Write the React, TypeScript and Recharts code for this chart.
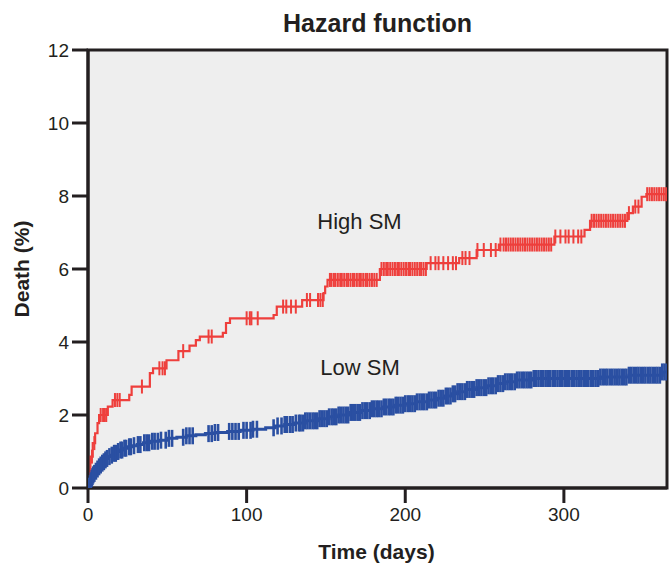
import React from 'react';
import { ComposedChart, Line, XAxis, YAxis, CartesianGrid, Customized } from 'recharts';

const X_TICKS = [0, 100, 200, 300];
const Y_TICKS = [0, 2, 4, 6, 8, 10, 12];

const highEventTimes = [0, 1, 1.5, 3, 4.5, 6, 7, 12.5, 15.5, 26, 27.5, 39, 41, 49.5, 57, 64, 68, 70.5, 85, 87, 89.5, 117, 119, 135, 148.5, 149.5, 151, 184, 213.5, 234, 245, 259, 294, 313, 316.5, 340, 343.5, 349, 352];
const highEventValues = [0, 0.45, 0.86, 1.23, 1.5, 1.78, 2.0, 2.23, 2.41, 2.55, 2.78, 3.15, 3.28, 3.5, 3.75, 3.9, 4.05, 4.15, 4.25, 4.52, 4.65, 4.74, 4.97, 5.15, 5.34, 5.52, 5.7, 6.0, 6.16, 6.3, 6.52, 6.67, 6.89, 7.07, 7.32, 7.53, 7.71, 7.98, 8.05];
const highCensorTimes = [2.5, 4, 8, 9.5, 10.5, 11.5, 17, 18.5, 20, 34, 45, 47, 48.5, 60, 76, 78, 100, 102, 103, 107, 123, 125, 128, 131, 138, 140, 145, 146.5, 148, 152.5, 153.5, 155, 156, 157.5, 159, 160, 161.5, 163, 164, 165.5, 167, 168, 169.5, 171, 172, 173.5, 175, 176, 177.5, 179, 180.5, 182, 185, 186.5, 188, 189, 190.5, 192, 193.5, 195, 196, 197.5, 199, 200.5, 202, 203, 204.5, 206, 207.5, 209, 210, 211.5, 213, 216, 219, 221, 224, 227, 230, 232, 236, 238, 240.5, 245.5, 249.5, 254, 257, 260, 262, 263.5, 265, 266.5, 268, 269.5, 271, 272.5, 274, 275.5, 277, 278.5, 280, 281.5, 283, 284.5, 286, 287.5, 289, 290.5, 292, 294.6, 297.8, 301, 303, 306, 309, 311, 317.5, 319, 320.5, 322, 323.5, 325, 326.5, 328, 329.5, 331, 332.5, 334, 335.5, 337, 338.5, 341, 345, 347, 352.5, 354, 355.5, 357, 358.5, 360, 361.5, 363, 364.5];

const lowEventTimes = [0, 0.5, 1, 1.5, 2, 2.5, 3, 3.5, 4.5, 5.5, 6.5, 7.5, 8.5, 9.5, 10.5, 11.5, 13, 14.5, 16, 18, 20, 22, 25, 28, 31, 35, 40, 45, 50, 56, 62, 68, 74, 80, 88, 96, 104, 112, 118, 124, 130, 137, 145, 152, 158, 165, 172, 179, 186, 193, 200, 207, 214, 220, 225, 229, 233, 238, 245, 252, 258, 263, 270, 280, 323, 341, 362];
const lowEventValues = [0, 0.05, 0.12, 0.2, 0.26, 0.31, 0.36, 0.4, 0.46, 0.52, 0.58, 0.63, 0.68, 0.72, 0.77, 0.81, 0.86, 0.9, 0.95, 1.0, 1.04, 1.09, 1.13, 1.16, 1.19, 1.24, 1.28, 1.31, 1.36, 1.39, 1.43, 1.46, 1.49, 1.52, 1.55, 1.58, 1.61, 1.65, 1.7, 1.74, 1.78, 1.84, 1.9, 1.95, 2.0, 2.07, 2.12, 2.17, 2.22, 2.27, 2.31, 2.36, 2.41, 2.46, 2.52, 2.58, 2.64, 2.7, 2.75, 2.8, 2.86, 2.91, 2.96, 3.0, 3.04, 3.09, 3.18];
const lowCensorTimes = [0.3, 0.8, 1.3, 1.8, 2.3, 2.8, 3.3, 4, 5, 6, 7, 8, 9, 10, 11, 12, 13.5, 15, 16.5, 17.5, 19, 20.5, 21.5, 23, 24, 26, 27, 29, 31.5, 33, 35.5, 37, 38.5, 40.5, 42, 44, 46, 49, 51, 53, 60, 62, 64, 66, 76, 78, 80, 82, 89, 91, 93, 95, 98, 100, 102.5, 104, 106.5, 117, 119.5, 122, 124, 125.5, 127.5, 129, 131, 133, 134, 135.5, 137, 138.4, 140, 141.6, 143, 144.5, 146, 147.4, 149, 150.5, 152, 153.6, 155, 156.5, 158, 159.4, 161, 162.5, 164, 165.6, 167, 168.5, 170, 171.4, 173, 174.5, 176, 177.6, 179, 180.5, 182, 183.4, 185, 186.5, 188, 189.6, 191, 192.5, 194, 195.4, 197, 198.5, 200, 201.6, 203, 204.5, 206, 207.4, 209, 210.5, 212, 213.6, 215, 216.5, 218, 219.4, 221, 222.5, 224, 225.6, 227, 228.5, 230, 231.4, 233, 234.5, 236, 237.6, 239, 240.5, 242, 243.4, 245, 246.5, 248, 249.6, 251, 252.5, 254, 255.4, 257, 258.5, 260, 261.6, 263, 264.5, 266, 267.4, 269, 270.5, 272, 273.6, 275, 276.5, 278, 279.4, 281, 282.5, 284, 285.6, 287, 288.5, 290, 291.4, 293, 294.5, 296, 297.6, 299, 300.5, 302, 303.4, 305, 306.5, 308, 309.6, 311, 312.5, 314, 315.4, 317, 318.5, 320, 321.6, 323, 324.5, 326, 327.4, 329, 330.5, 332, 333.6, 335, 336.5, 338, 339.4, 341, 342.5, 344, 345.6, 347, 348.5, 350, 351.4, 353, 354.5, 356, 357.6, 359, 360.5, 362, 363.4, 365];

const RED = '#ee3f3c';
const BLUE = '#2a4fa2';
const INK = '#231f20';

function stepValue(times: number[], values: number[], t: number) {
  let v = 0;
  for (let i = 0; i < times.length; i++) if (times[i] <= t) v = values[i];
  return v;
}

function buildSeries(times: number[], values: number[], censors: number[]) {
  const pts: { t: number; v: number; c: boolean; o: number }[] = [];
  times.forEach((t, i) => pts.push({ t, v: values[i], c: false, o: 0 }));
  censors.forEach((t) => pts.push({ t, v: stepValue(times, values, t), c: true, o: 1 }));
  pts.sort((a, b) => a.t - b.t || a.o - b.o);
  return pts;
}

const highData = buildSeries(highEventTimes, highEventValues, highCensorTimes);
const lowData = buildSeries(lowEventTimes, lowEventValues, lowCensorTimes);

const makeTick = (color: string, half: number, w: number) => (props: any) => {
  const { cx, cy, payload, index } = props;
  if (!payload || !payload.c || cx == null || cy == null) return <g key={`n${index}`} />;
  return <line key={`c${index}`} x1={cx} x2={cx} y1={cy - half} y2={cy + half} stroke={color} strokeWidth={w} />;
};

const FONT = '"Liberation Sans", Arial, Helvetica, sans-serif';

const PLOT = { x: 88, y: 50, w: 579, h: 438 };

const Texts = () => (
  <g fontFamily={FONT} fill={INK}>
    <rect x={PLOT.x} y={PLOT.y} width={PLOT.w} height={PLOT.h} fill="none" stroke={INK} strokeWidth={3} />
    <text x={377.5} y={32} textAnchor="middle" fontSize={25} fontWeight="bold">Hazard function</text>
    <text x={376.5} y={559} textAnchor="middle" fontSize={21} fontWeight="bold">Time (days)</text>
    <text x={29} y={269} textAnchor="middle" fontSize={21} fontWeight="bold" transform="rotate(-90 29 269)">Death (%)</text>
    <text x={359.5} y={229} textAnchor="middle" fontSize={22}>High SM</text>
    <text x={360} y={375} textAnchor="middle" fontSize={22}>Low SM</text>
  </g>
);

export default function App() {
  const tickStyle = { fontSize: 19, fill: INK, fontFamily: FONT };
  const lineStyle = { stroke: INK, strokeWidth: 3 };
  return (
    <div style={{ position: 'absolute', left: 0, top: 0 }}>
      <ComposedChart width={669} height={565} margin={{ top: 50, right: 2, left: 28, bottom: 37 }}>
        <CartesianGrid fill="#eeeeee" horizontal={false} vertical={false} />
        <XAxis
          type="number"
          dataKey="t"
          domain={[0, 365]}
          ticks={X_TICKS}
          allowDataOverflow
          height={40}
          tickSize={15}
          tickMargin={5}
          tick={tickStyle}
          tickLine={lineStyle}
          axisLine={lineStyle}
        />
        <YAxis
          type="number"
          domain={[0, 12]}
          ticks={Y_TICKS}
          allowDataOverflow
          width={60}
          tickSize={16}
          tickMargin={3}
          tick={tickStyle}
          tickLine={lineStyle}
          axisLine={lineStyle}
        />
        <Line
          data={highData}
          dataKey="v"
          type="stepAfter"
          stroke={RED}
          strokeWidth={2.2}
          dot={makeTick(RED, 7, 2)}
          activeDot={false}
          isAnimationActive={false}
        />
        <Line
          data={lowData}
          dataKey="v"
          type="stepAfter"
          stroke={BLUE}
          strokeWidth={3}
          dot={makeTick(BLUE, 8.5, 2.6)}
          activeDot={false}
          isAnimationActive={false}
        />
        <Customized component={Texts} />
      </ComposedChart>
    </div>
  );
}
